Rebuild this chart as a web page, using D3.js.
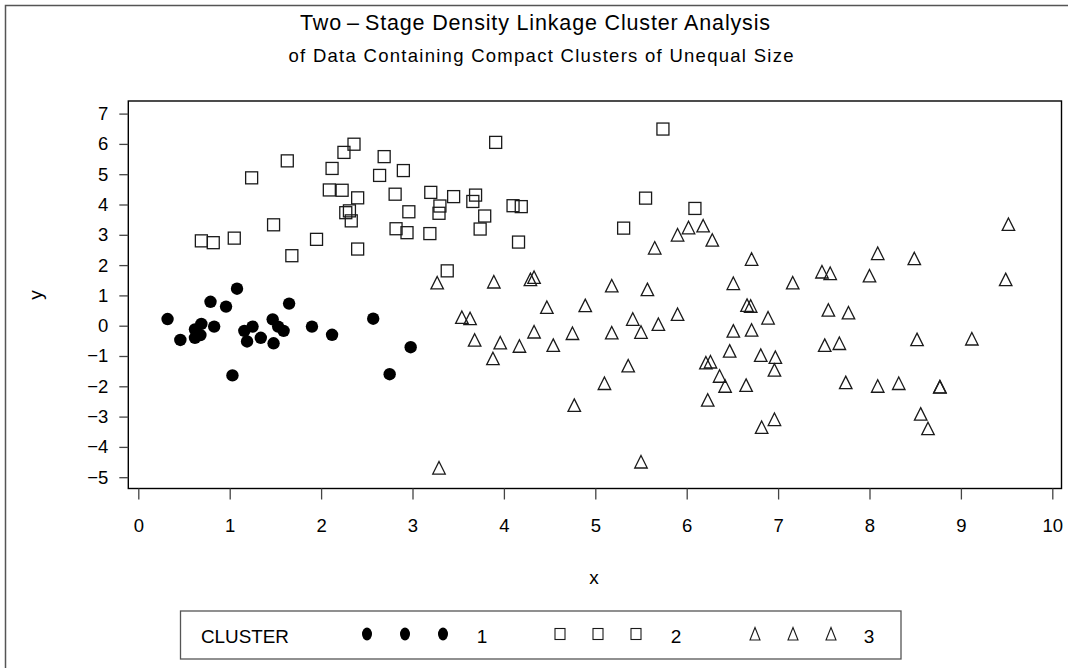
<!DOCTYPE html>
<html><head><meta charset="utf-8">
<script src="https://cdn.jsdelivr.net/npm/d3@7"></script>
<style>
body{margin:0;background:#fff}
svg{display:block}
text{font-family:"Liberation Sans",Arial,Helvetica,sans-serif;fill:#000}
</style>
</head><body>
<svg id="chart" width="1068" height="668"></svg>
<script>
// ---------------- data ----------------
const titleLine1 = "Two\u2009\u2013\u2009Stage Density Linkage Cluster Analysis";
const titleLine2 = "of Data Containing Compact Clusters of Unequal Size";
const xLabel = "x";
const yLabel = "y";
const legendTitle = "CLUSTER";
const clusterNames = ["1", "2", "3"];
const xTicks = [0,1,2,3,4,5,6,7,8,9,10];
const yTicks = [-5,-4,-3,-2,-1,0,1,2,3,4,5,6,7];

const cluster1X = [0.32,0.46,0.62,0.62,0.68,0.69,0.79,0.83,0.96,1.08,1.03,1.16,1.19,1.25,1.34,1.47,1.48,1.53,1.59,1.65,1.90,2.12,2.57,2.75,2.98];
const cluster1Y = [0.22,-0.47,-0.12,-0.40,-0.31,0.06,0.79,-0.03,0.63,1.22,-1.64,-0.17,-0.52,-0.03,-0.40,0.21,-0.58,-0.03,-0.17,0.73,-0.03,-0.30,0.23,-1.60,-0.71];

const cluster2X = [0.69,0.82,1.05,1.24,1.48,1.63,1.68,1.95,2.12,2.09,2.23,2.25,2.36,2.40,2.27,2.31,2.33,2.40,2.64,2.69,2.81,2.82,2.90,2.94,2.96,
  3.91,3.20,3.45,3.30,3.29,3.19,3.69,3.66,3.79,3.74,4.10,4.19,4.16,3.38,5.74,5.55,5.31,6.09];
const cluster2Y = [2.80,2.74,2.89,4.88,3.33,5.44,2.31,2.85,5.19,4.48,4.47,5.72,5.99,4.22,3.73,3.79,3.46,2.53,4.96,5.58,4.34,3.20,5.12,3.07,3.76,
  6.05,4.40,4.26,3.95,3.71,3.04,4.31,4.10,3.62,3.19,3.96,3.93,2.76,1.81,6.49,4.21,3.22,3.87];

const cluster3X = [3.27,3.89,4.29,4.33,5.18,5.57,5.65,5.90,6.02,4.47,4.89,3.54,3.63,3.68,3.96,3.88,4.17,4.33,4.54,4.75,4.77,5.10,5.36,5.18,5.41,5.50,5.69,5.90,3.29,5.50,
  6.18,6.28,6.71,6.51,7.16,7.48,7.57,8.00,8.09,8.49,9.52,9.49,6.66,6.70,6.89,6.51,6.71,7.55,7.77,6.47,6.81,6.97,6.96,6.21,6.26,6.36,6.42,6.65,6.23,
  7.51,7.67,8.52,9.12,7.74,8.09,8.32,8.77,8.77,6.96,6.82,8.56,8.64];
const cluster3Y = [1.42,1.45,1.53,1.60,1.32,1.20,2.57,3.00,3.24,0.61,0.67,0.28,0.24,-0.47,-0.56,-1.08,-0.67,-0.20,-0.64,-0.25,-2.62,-1.90,-1.32,-0.23,0.22,-0.21,0.05,0.38,-4.69,-4.49,
  3.30,2.83,2.20,1.40,1.42,1.78,1.73,1.65,2.39,2.22,3.35,1.53,0.68,0.65,0.26,-0.17,-0.14,0.52,0.43,-0.83,-0.97,-1.04,-1.46,-1.22,-1.19,-1.66,-1.99,-1.96,-2.45,
  -0.64,-0.58,-0.45,-0.43,-1.87,-1.99,-1.90,-2.01,-2.02,-3.09,-3.35,-2.91,-3.39];

// ---------------- layout ----------------
const svg = d3.select("#chart");
const frame = {left:128.3, right:1061.5, top:101, bottom:488.5};
const x = d3.scaleLinear().domain([0,10]).range([138.3,1052.3]);
const y = d3.scaleLinear().domain([-5,7]).range([477.2,113.6]);
const ink = "#1a1a1a";
const fontFam = '"Liberation Sans",Arial,Helvetica,sans-serif';

// outer page border (only top/left visible)
svg.append("path").attr("d","M5.5,668 V5.5 H1068")
  .attr("fill","none").attr("stroke","#555").attr("stroke-width",1.5);

// titles
svg.append("text").attr("x",535).attr("y",30).attr("text-anchor","middle")
  .attr("font-size",21.5).attr("textLength",470).attr("lengthAdjust","spacing").text(titleLine1);
svg.append("text").attr("x",541).attr("y",62).attr("text-anchor","middle")
  .attr("font-size",18.5).attr("textLength",505).attr("lengthAdjust","spacing").text(titleLine2);

// plot frame
svg.append("rect").attr("x",frame.left).attr("y",frame.top)
  .attr("width",frame.right-frame.left).attr("height",frame.bottom-frame.top)
  .attr("fill","none").attr("stroke","#000").attr("stroke-width",1.4);

// axes
const yAxis = svg.append("g").attr("transform",`translate(${frame.left},0)`)
  .call(d3.axisLeft(y).tickValues(yTicks).tickSize(9).tickPadding(11).tickFormat(d3.format("d")));
const xAxis = svg.append("g").attr("transform",`translate(0,${frame.bottom})`)
  .call(d3.axisBottom(x).tickValues(xTicks).tickSize(11).tickPadding(19).tickFormat(d3.format("d")));
[xAxis,yAxis].forEach(g=>{
  g.attr("font-size",null).attr("font-family",null);
  g.select(".domain").remove();
  g.selectAll(".tick line").attr("stroke","#444").attr("stroke-width",1.3);
  g.selectAll(".tick text").attr("font-size",18.5).attr("fill","#000")
    .style("font-family",fontFam);
});

// axis labels
svg.append("text").attr("x",594).attr("y",584).attr("text-anchor","middle")
  .attr("font-size",19).text(xLabel);
svg.append("text").attr("transform","translate(42,295) rotate(-90)").attr("text-anchor","middle")
  .attr("font-size",19).text(yLabel);

// marker shapes
const triPath = s => `M0,${-s/2} L${s/2},${s/2} L${-s/2},${s/2} Z`;

const g = svg.append("g");
// cluster 3 triangles
g.selectAll("path.c3").data(d3.range(cluster3X.length)).join("path")
  .attr("class","c3")
  .attr("transform",i=>`translate(${x(cluster3X[i])},${y(cluster3Y[i])})`)
  .attr("d",triPath(12.5)).attr("fill","none").attr("stroke",ink).attr("stroke-width",1.3);
// cluster 2 squares
g.selectAll("rect.c2").data(d3.range(cluster2X.length)).join("rect")
  .attr("class","c2")
  .attr("x",i=>x(cluster2X[i])-6).attr("y",i=>y(cluster2Y[i])-6)
  .attr("width",12).attr("height",12)
  .attr("fill","none").attr("stroke",ink).attr("stroke-width",1.3);
// cluster 1 filled circles
g.selectAll("circle.c1").data(d3.range(cluster1X.length)).join("circle")
  .attr("class","c1")
  .attr("cx",i=>x(cluster1X[i])).attr("cy",i=>y(cluster1Y[i])).attr("r",6.2)
  .attr("fill","#000");

// legend
const lg = svg.append("g");
lg.append("rect").attr("x",180.5).attr("y",611).attr("width",720.5).attr("height",48)
  .attr("fill","none").attr("stroke","#555").attr("stroke-width",1.3);
lg.append("text").attr("x",201).attr("y",643).attr("font-size",18.5)
  .attr("textLength",88).attr("lengthAdjust","spacingAndGlyphs").text(legendTitle);
const legendItems = [
  {name:clusterNames[0], xs:[367,405,443], lx:482, shape:"circle"},
  {name:clusterNames[1], xs:[560,598,636], lx:676, shape:"square"},
  {name:clusterNames[2], xs:[755,793,831], lx:869, shape:"triangle"}
];
legendItems.forEach(it=>{
  it.xs.forEach(cx=>{
    if(it.shape==="circle"){
      lg.append("ellipse").attr("cx",cx).attr("cy",634).attr("rx",5).attr("ry",6.5).attr("fill","#000");
    } else if(it.shape==="square"){
      lg.append("rect").attr("x",cx-5).attr("y",628.5).attr("width",10).attr("height",11)
        .attr("fill","none").attr("stroke",ink).attr("stroke-width",1.1);
    } else {
      lg.append("path").attr("transform",`translate(${cx},634)`).attr("d","M0,-6.5 L5,6 L-5,6 Z")
        .attr("fill","none").attr("stroke",ink).attr("stroke-width",1.1);
    }
  });
  lg.append("text").attr("x",it.lx).attr("y",643).attr("text-anchor","middle").attr("font-size",19).text(it.name);
});
</script>
</body></html>
